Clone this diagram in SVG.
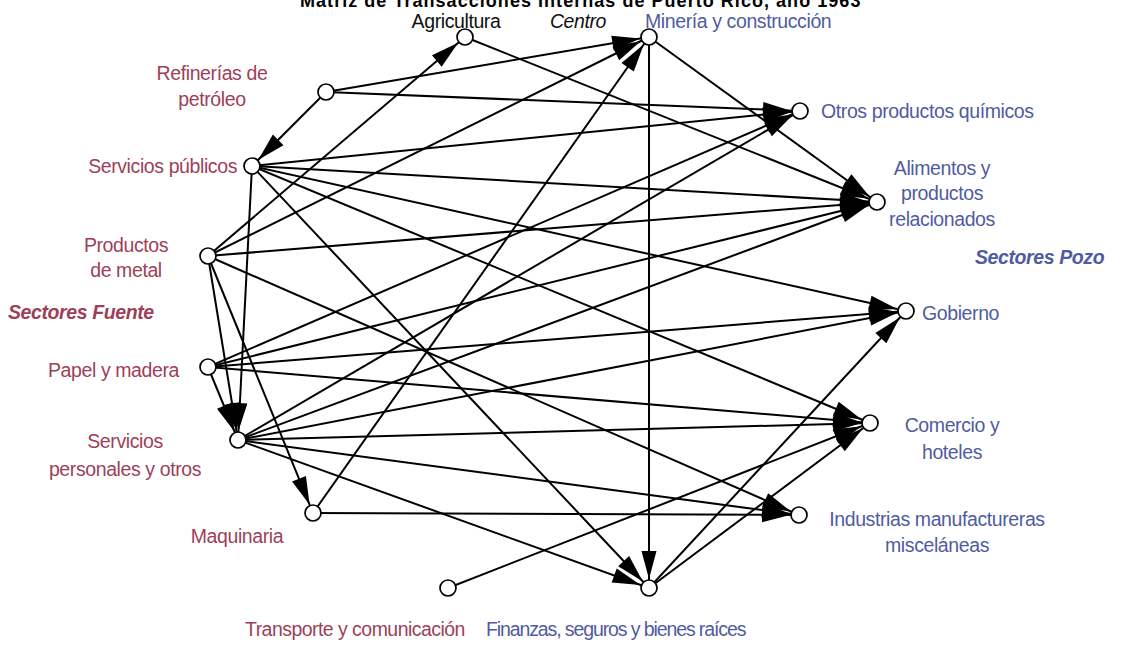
<svg xmlns="http://www.w3.org/2000/svg" width="1142" height="645" viewBox="0 0 1142 645">
  <style>
    text { font-family: "Liberation Sans", Arial, sans-serif; font-size: 19.5px; letter-spacing: -0.4px; }
    .title { font-weight: bold; font-size: 18px; fill: #000; letter-spacing: -0.4px; }
    .mid { fill: #111; }
    .src { fill: #9e3f58; }
    .snk { fill: #505ca0; }
    .tag { font-style: italic; font-weight: bold; }
    .edge line { stroke: #000; stroke-width: 2; marker-end: url(#arrow); }
    .node circle { fill: #fff; stroke: #000; stroke-width: 1.7; }
  </style>
  <defs>
    <!-- tip sits 9 units before the line end, just outside the node ring -->
    <marker id="arrow" markerUnits="userSpaceOnUse" viewBox="-40 -9 40 18" markerWidth="40" markerHeight="18" refX="0" refY="0" orient="auto">
      <path d="M -9 0 L -37 -7.5 L -37 7.5 Z" fill="#000"/>
    </marker>
  </defs>

  <rect width="1142" height="645" fill="#fff"/>

  <!-- heading runs off the top edge -->
  <text class="title" x="580" y="7" text-anchor="middle" textLength="560">Matriz de Transacciones Internas de Puerto Rico, año 1963</text>
  <text class="mid tag" x="578" y="28" text-anchor="middle" style="font-weight:normal">Centro</text>
  <text class="src tag" x="8" y="319">Sectores Fuente</text>
  <text class="snk tag" x="975" y="264">Sectores Pozo</text>

  <g class="edge" id="connectors">
    <line x1="326" y1="92" x2="252" y2="166"/>
    <line x1="326" y1="92" x2="649" y2="37"/>
    <line x1="326" y1="92" x2="800" y2="111"/>
    <line x1="465" y1="37" x2="877" y2="202"/>
    <line x1="649" y1="37" x2="877" y2="202"/>
    <line x1="649" y1="37" x2="649" y2="588"/>
    <line x1="208" y1="256" x2="465" y2="37"/>
    <line x1="208" y1="256" x2="649" y2="37"/>
    <line x1="208" y1="256" x2="877" y2="202"/>
    <line x1="208" y1="256" x2="799" y2="515"/>
    <line x1="208" y1="256" x2="238" y2="440"/>
    <line x1="208" y1="256" x2="313" y2="513"/>
    <line x1="252" y1="166" x2="800" y2="111"/>
    <line x1="252" y1="166" x2="877" y2="202"/>
    <line x1="252" y1="166" x2="906" y2="311"/>
    <line x1="252" y1="166" x2="870" y2="423"/>
    <line x1="252" y1="166" x2="649" y2="588"/>
    <line x1="252" y1="166" x2="238" y2="440"/>
    <line x1="208" y1="367" x2="800" y2="111"/>
    <line x1="208" y1="367" x2="877" y2="202"/>
    <line x1="208" y1="367" x2="906" y2="311"/>
    <line x1="208" y1="367" x2="870" y2="423"/>
    <line x1="208" y1="367" x2="238" y2="440"/>
    <line x1="238" y1="440" x2="800" y2="111"/>
    <line x1="238" y1="440" x2="877" y2="202"/>
    <line x1="238" y1="440" x2="906" y2="311"/>
    <line x1="238" y1="440" x2="870" y2="423"/>
    <line x1="238" y1="440" x2="799" y2="515"/>
    <line x1="238" y1="440" x2="649" y2="588"/>
    <line x1="313" y1="513" x2="649" y2="37"/>
    <line x1="313" y1="513" x2="799" y2="515"/>
    <line x1="448" y1="588" x2="870" y2="423"/>
    <line x1="649" y1="588" x2="906" y2="311"/>
    <line x1="649" y1="588" x2="870" y2="423"/>
  </g>

  <g class="node" id="agricultura">
    <circle cx="465" cy="37" r="8"/>
    <text class="mid" x="456" y="28" text-anchor="middle">Agricultura</text>
  </g>
  <g class="node" id="mineria">
    <circle cx="649" cy="37" r="8"/>
    <text class="snk" x="645" y="28">Minería y construcción</text>
  </g>
  <g class="node" id="refinerias">
    <circle cx="326" cy="92" r="8"/>
    <text class="src" x="212" y="80" text-anchor="middle">Refinerías de</text>
    <text class="src" x="212" y="106" text-anchor="middle">petróleo</text>
  </g>
  <g class="node" id="servicios-publicos">
    <circle cx="252" cy="166" r="8"/>
    <text class="src" x="237" y="173" text-anchor="end">Servicios públicos</text>
  </g>
  <g class="node" id="productos-metal">
    <circle cx="208" cy="256" r="8"/>
    <text class="src" x="126" y="252" text-anchor="middle">Productos</text>
    <text class="src" x="126" y="277" text-anchor="middle">de metal</text>
  </g>
  <g class="node" id="papel-madera">
    <circle cx="208" cy="367" r="8"/>
    <text class="src" x="179" y="377" text-anchor="end">Papel y madera</text>
  </g>
  <g class="node" id="servicios-personales">
    <circle cx="238" cy="440" r="8"/>
    <text class="src" x="125" y="448" text-anchor="middle">Servicios</text>
    <text class="src" x="125" y="476" text-anchor="middle">personales y otros</text>
  </g>
  <g class="node" id="maquinaria">
    <circle cx="313" cy="513" r="8"/>
    <text class="src" x="237" y="543" text-anchor="middle">Maquinaria</text>
  </g>
  <g class="node" id="transporte">
    <circle cx="448" cy="588" r="8"/>
    <text class="src" x="355" y="636" text-anchor="middle" textLength="220">Transporte y comunicación</text>
  </g>
  <g class="node" id="finanzas">
    <circle cx="649" cy="588" r="8"/>
    <text class="snk" x="616" y="636" text-anchor="middle" textLength="260">Finanzas, seguros y bienes raíces</text>
  </g>
  <g class="node" id="quimicos">
    <circle cx="800" cy="111" r="8"/>
    <text class="snk" x="821" y="118">Otros productos químicos</text>
  </g>
  <g class="node" id="alimentos">
    <circle cx="877" cy="202" r="8"/>
    <text class="snk" x="942" y="175" text-anchor="middle">Alimentos y</text>
    <text class="snk" x="942" y="200" text-anchor="middle">productos</text>
    <text class="snk" x="942" y="226" text-anchor="middle">relacionados</text>
  </g>
  <g class="node" id="gobierno">
    <circle cx="906" cy="311" r="8"/>
    <text class="snk" x="922" y="320">Gobierno</text>
  </g>
  <g class="node" id="comercio">
    <circle cx="870" cy="423" r="8"/>
    <text class="snk" x="952" y="432" text-anchor="middle">Comercio y</text>
    <text class="snk" x="952" y="459" text-anchor="middle">hoteles</text>
  </g>
  <g class="node" id="industrias">
    <circle cx="799" cy="515" r="8"/>
    <text class="snk" x="937" y="526" text-anchor="middle">Industrias manufactureras</text>
    <text class="snk" x="937" y="552" text-anchor="middle">misceláneas</text>
  </g>
</svg>
